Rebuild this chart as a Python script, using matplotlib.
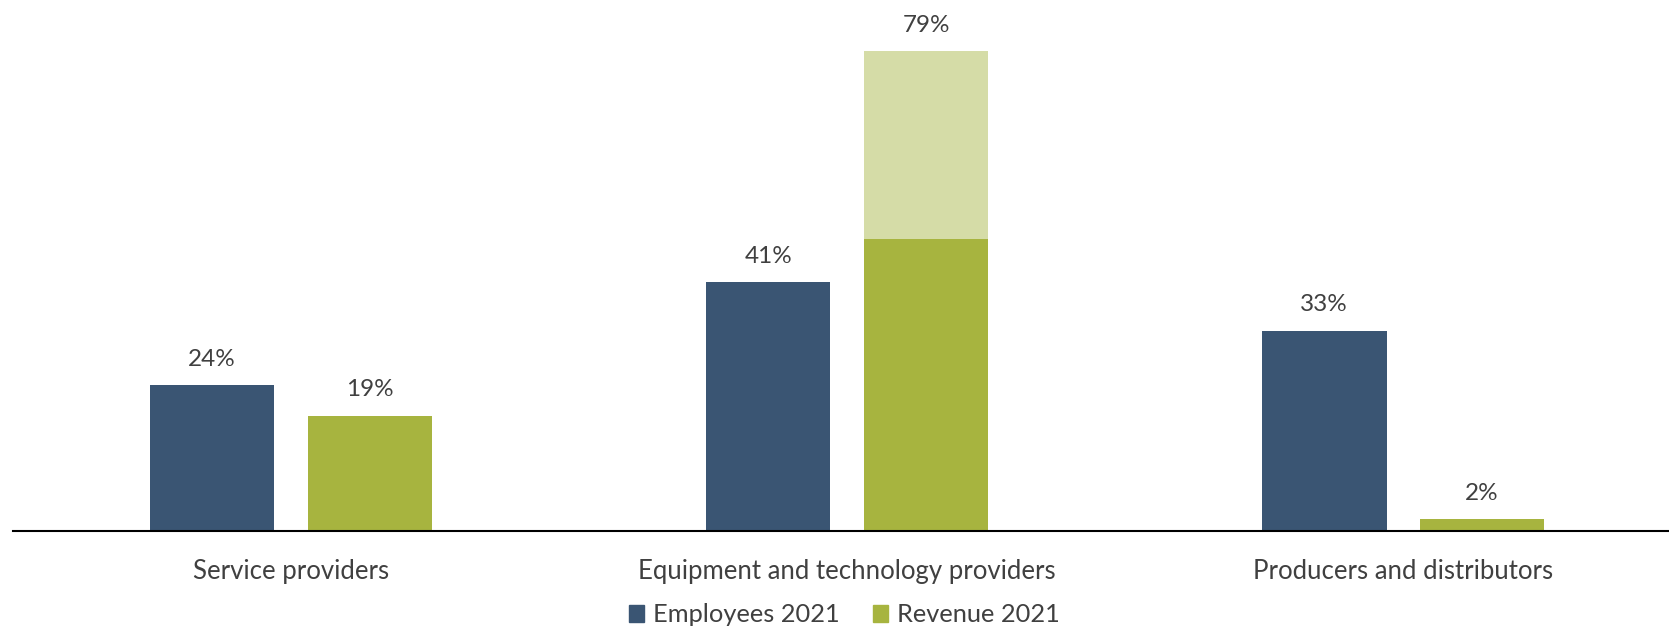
import numpy as np
import matplotlib
matplotlib.use('Agg')
import matplotlib.pyplot as plt
from matplotlib.patches import Patch

plt.rcParams['font.family'] = ['Lato', 'DejaVu Sans']

# 数据
categories = ['Service providers', 'Equipment and technology providers', 'Producers and distributors']
employees = [24, 41, 33]
revenue = [19, 48, 2]          # 实色部分
revenue_total = [19, 79, 2]    # 含浅色部分的总值

c_emp = '#3A5573'
c_rev = '#A7B43F'
c_rev_light = '#D5DCA7'
c_text = '#404040'

fig = plt.figure(figsize=(16.69, 6.31), dpi=100)
ax = fig.add_axes([13 / 1669, 100 / 631, 1 - 13 / 1669, 531 / 631])

x = np.arange(len(categories))
w = 0.224
off = 0.142

ax.bar(x - off, employees, width=w, color=c_emp)
ax.bar(x + off, revenue, width=w, color=c_rev)
extra = [t - r for t, r in zip(revenue_total, revenue)]
ax.bar(x + off, extra, width=w, bottom=revenue, color=c_rev_light)

for i in range(len(categories)):
    ax.annotate('%d%%' % employees[i], (x[i] - off, employees[i]), xytext=(0, 11),
                textcoords='offset points', ha='center', va='bottom', fontsize=17.5, color=c_text)
    ax.annotate('%d%%' % revenue_total[i], (x[i] + off, revenue_total[i]), xytext=(0, 11),
                textcoords='offset points', ha='center', va='bottom', fontsize=17.5, color=c_text)

ax.set_xlim(-0.5, 2.478)
ax.set_ylim(0, 87.4)
for s in ['top', 'right', 'left']:
    ax.spines[s].set_visible(False)
ax.spines['bottom'].set_linewidth(1.5)
ax.spines['bottom'].set_color('black')
ax.set_yticks([])
ax.set_xticks(x)
ax.set_xticklabels(categories, fontsize=18.5, color=c_text)
ax.tick_params(axis='x', length=0, pad=20.5)

handles = [Patch(color=c_emp, label='Employees 2021'), Patch(color=c_rev, label='Revenue 2021')]
fig.legend(handles=handles, loc='center', bbox_to_anchor=(0.506, 16 / 631), ncol=2, frameon=False,
           fontsize=18.3, handlelength=0.6, handleheight=0.6, handletextpad=0.35, columnspacing=1.3,
           labelcolor=c_text)

plt.savefig('out.png', dpi=100)
plt.close()
